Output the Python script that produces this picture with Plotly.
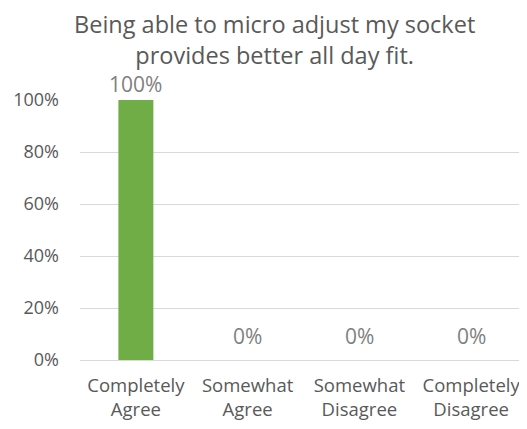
import plotly.graph_objects as go

categories = ["Completely<br>Agree", "Somewhat<br>Agree", "Somewhat<br>Disagree", "Completely<br>Disagree"]
values = [1.0, 0.0, 0.0, 0.0]
labels = ["100%", "0%", "0%", "0%"]
tick_vals = [0, 0.2, 0.4, 0.6, 0.8, 1.0]
tick_text = ["0%", "20%", "40%", "60%", "80%", "100%"]
title = "Being able to micro adjust my socket<br>provides better all day fit."

FONT = "Open Sans"
GRAY = "#595959"
LABEL_GRAY = "#808080"

fig = go.Figure()
fig.add_trace(go.Bar(
    x=categories, y=values,
    marker=dict(color="#70ad47", line=dict(width=0)),
    width=0.313,
))

for c, v, t in zip(categories, values, labels):
    fig.add_annotation(x=c, y=v, text=t, showarrow=False, yanchor="bottom",
                       yshift=0 if v > 0 else 8,
                       font=dict(family=FONT, size=21, color=LABEL_GRAY))

fig.add_annotation(text=title, xref="paper", yref="paper", x=0.435, y=1.232,
                   xanchor="center", yanchor="middle", showarrow=False,
                   font=dict(family=FONT, size=23.5, color=GRAY))

fig.update_layout(
    width=519, height=421,
    margin=dict(l=72, r=0, t=92, b=69),
    paper_bgcolor="white", plot_bgcolor="white",
    showlegend=False,
    font=dict(family=FONT, color=GRAY),
)
fig.update_xaxes(showgrid=False, showline=False, ticks="",
                 tickfont=dict(family=FONT, size=18.5, color=GRAY),
                 ticklabelstandoff=12)
fig.update_yaxes(range=[0, 1], tickvals=tick_vals, ticktext=tick_text,
                 showgrid=True, gridcolor="#d9d9d9", gridwidth=1,
                 zeroline=True, zerolinecolor="#d9d9d9", zerolinewidth=1,
                 showline=False, ticks="",
                 tickfont=dict(family=FONT, size=18, color=GRAY),
                 ticklabelstandoff=20)

fig.write_html("out.html")
